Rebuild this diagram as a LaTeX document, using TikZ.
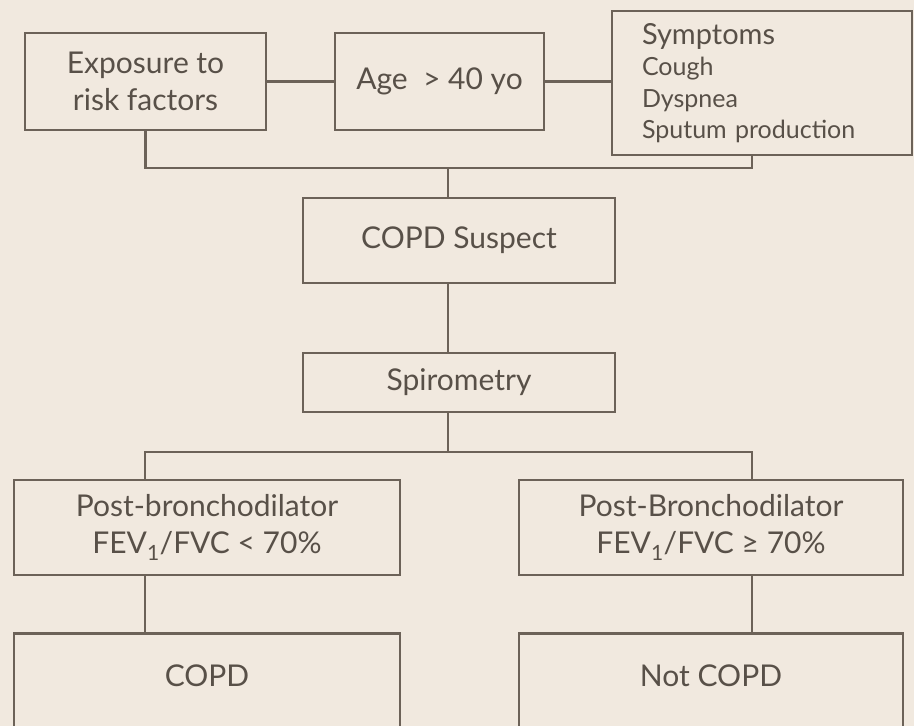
\documentclass[tikz,border=0pt]{standalone}
\usepackage{fontspec}
\setmainfont{Lato}
\usepackage{tikz}
\usetikzlibrary{positioning, calc}
\definecolor{paper}{RGB}{241,233,223}
\definecolor{textgray}{RGB}{88,80,72}
\definecolor{linegray}{RGB}{108,98,88}
\tikzset{
	box/.style={
		draw=linegray,
		line width=2.6pt,
		text=textgray,
		inner sep=0pt,
		align=center,
		font=\fontsize{30}{37}\selectfont
	},
	link/.style={
		draw=linegray,
		line width=2.6pt
	}
}

\begin{document}
\begin{tikzpicture}[x=1pt, y=-1pt]
	\useasboundingbox (0,0) rectangle (914,726);
	\fill[paper] (0,0) rectangle (914,726);
	\clip (0,0) rectangle (914,726);

	% top row
	\node[box, minimum width=241pt, minimum height=97pt] (expo) at (145.5,81.5) {Exposure to\\risk factors};
	\node[box, minimum width=209pt, minimum height=97pt] (age) at (439.5,81.5) {Age~ > 40 yo};
	\node[box, minimum width=300pt, minimum height=144pt, align=left, text width=240pt, inner xsep=30pt,
		font=\fontsize{25}{31.5}\selectfont] (symp) at (762,83)
		{{\fontsize{29}{31.5}\selectfont Symptoms}\\Cough\\Dyspnea\\Sputum production};

	% middle
	\node[box, minimum width=312pt, minimum height=85pt] (suspect) at (459,240.5) {COPD Suspect};
	\node[box, minimum width=312pt, minimum height=59pt] (spiro) at (459,382.5) {Spirometry};

	% spirometry results
	\node[box, minimum width=386pt, minimum height=95pt] (postl) at (207,527.5) {Post-bronchodilator\\FEV\textsubscript{1}/FVC < 70\%};
	\node[box, minimum width=384pt, minimum height=95pt] (postr) at (711,527.5) {Post-Bronchodilator\\FEV\textsubscript{1}/FVC ≥ 70\%};

	% outcome (boxes run off the page)
	\node[box, minimum width=386pt, text height=53pt, text depth=100pt, anchor=north] (copd) at (207,632) {COPD};
	\node[box, minimum width=384pt, text height=53pt, text depth=100pt, anchor=north] (notcopd) at (711,632) {Not COPD};

	% junctions
	\coordinate (jtop) at (448,168);
	\coordinate (jbot) at (448,452);
	\coordinate (bl) at (145,452);
	\coordinate (br) at (752,452);

	% connectors
	\begin{scope}[link]
	\draw (expo.east) -- (expo.east -| age.west);
	\draw (age.east) -- (age.east -| symp.west);
	\draw (expo.south) |- (jtop) -| ([xshift=-10pt]symp.south);
	\draw (jtop) -- (jtop |- suspect.north);
	\draw (jtop |- suspect.south) -- (jtop |- spiro.north);
	\draw (jbot |- spiro.south) -- (jbot);
	\draw (bl |- postl.north) -- (bl) -- (br) -- (br |- postr.north);
	\draw (bl |- postl.south) -- (bl |- copd.north);
	\draw (br |- postr.south) -- (br |- notcopd.north);
	\end{scope}
\end{tikzpicture}
\end{document}
